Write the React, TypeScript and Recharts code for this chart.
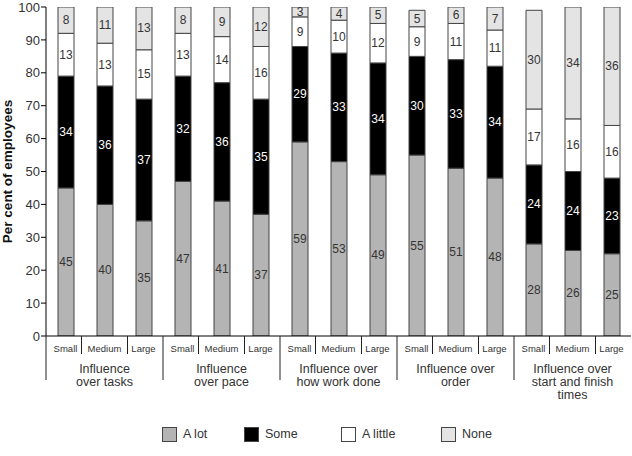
import React from 'react';
import { BarChart, Bar, XAxis, YAxis, Legend, LabelList } from 'recharts';

// ---- data ----
const sizes = ['Small', 'Medium', 'Large'];
const groupLabels: string[][] = [
  ['Influence', 'over tasks'],
  ['Influence', 'over pace'],
  ['Influence over', 'how work done'],
  ['Influence over', 'order'],
  ['Influence over', 'start and finish', 'times'],
];
const aLot = [45, 40, 35, 47, 41, 37, 59, 53, 49, 55, 51, 48, 28, 26, 25];
const some = [34, 36, 37, 32, 36, 35, 29, 33, 34, 30, 33, 34, 24, 24, 23];
const aLittle = [13, 13, 15, 13, 14, 16, 9, 10, 12, 9, 11, 11, 17, 16, 16];
const none = [8, 11, 13, 8, 9, 12, 3, 4, 5, 5, 6, 7, 30, 34, 36];
const yTicks = [0, 10, 20, 30, 40, 50, 60, 70, 80, 90, 100];
const seriesNames = ['A lot', 'Some', 'A little', 'None'];
const yLabel = 'Per cent of employees';

// ---- styles ----
const FONT = '"Liberation Sans", Arial, Helvetica, sans-serif';
const TXT = '#333';
const colors = ['#b4b4b4', '#000000', '#ffffff', '#e4e4e4'];
const labelColors = ['#333', '#ffffff', '#333', '#333'];
const keys = ['aLot', 'some', 'aLittle', 'none'];
const legendX = [162, 244, 341, 441];
const BAND = 39;

const data = aLot.map((v, i) => ({
  key: i,
  size: sizes[i % 3],
  aLot: v,
  some: some[i],
  aLittle: aLittle[i],
  none: none[i],
}));

function XTick(props: any) {
  const { x, y, payload } = props;
  const i = Number(payload.value);
  const half = BAND / 2;
  const g = Math.floor(i / 3);
  const pos = i % 3;
  return (
    <g>
      <text x={x} y={y + 16} textAnchor="middle" fontSize={9.5} fill={TXT} fontFamily={FONT}>
        {sizes[pos]}
      </text>
      {pos === 0 && (
        <line x1={x - half} x2={x - half} y1={y} y2={y + 44} stroke="#222" strokeWidth={1} />
      )}
      {pos === 1 && (
        <g>
          <line x1={x - half - 3.5} x2={x - half - 3.5} y1={y} y2={y + 18} stroke="#222" strokeWidth={1} />
          <line x1={x + half + 3.5} x2={x + half + 3.5} y1={y} y2={y + 18} stroke="#222" strokeWidth={1} />
          {groupLabels[g].map((ln, k) => (
            <text key={k} x={x} y={y + 37 + k * 13} textAnchor="middle" fontSize={12.5} fill={TXT} fontFamily={FONT}>
              {ln}
            </text>
          ))}
        </g>
      )}
    </g>
  );
}

function LegendContent() {
  return (
    <div style={{ position: 'relative', width: 632, height: 24, fontFamily: FONT }}>
      {seriesNames.map((n, k) => (
        <div key={n} style={{ position: 'absolute', left: legendX[k], top: 3, display: 'flex', alignItems: 'center' }}>
          <div style={{ width: 13, height: 13, background: colors[k], border: '1px solid #444' }} />
          <span style={{ marginLeft: 6, fontSize: 12.5, color: TXT, lineHeight: '15px' }}>{n}</span>
        </div>
      ))}
    </div>
  );
}

function YLabel(props: any) {
  const vb = props.viewBox || { x: 0, y: 7, width: 46, height: 329 };
  const cx = 11.5;
  const cy = vb.y + vb.height / 2;
  return (
    <text x={cx} y={cy} transform={`rotate(-90, ${cx}, ${cy})`} textAnchor="middle" fontSize={13.5} fontWeight="bold" fill="#111" fontFamily={FONT}>
      {yLabel}
    </text>
  );
}

function makeLabel(color: string) {
  return (p: any) => {
    const { x, y, width, height, value } = p;
    const cx = Number(x) + Number(width) / 2;
    const cy = Number(y) + Number(height) / 2 + 4;
    return (
      <g opacity={0.99}>
        <text x={cx} y={cy} textAnchor="middle" fontSize={12} fill={color} stroke="none" fontFamily={FONT}>
          {value}
        </text>
      </g>
    );
  };
}

export default function App() {
  return (
    <div style={{ position: 'absolute', left: 0, top: 0, width: 632, height: 456, background: '#fff', fontFamily: FONT }}>
      <BarChart
        width={632}
        height={456}
        data={data}
        margin={{ top: 7, right: 1, left: 0, bottom: 8 }}
        barSize={16}
      >
        <XAxis
          dataKey="key"
          type="category"
          interval={0}
          tickLine={false}
          tickSize={0}
          tickMargin={0}
          axisLine={{ stroke: '#000', strokeWidth: 1 }}
          height={88}
          tick={<XTick />}
        />
        <YAxis
          type="number"
          domain={[0, 100]}
          allowDataOverflow
          ticks={yTicks}
          interval={0}
          width={46}
          tickSize={5}
          tickMargin={1}
          axisLine={{ stroke: '#000', strokeWidth: 1 }}
          tickLine={{ stroke: '#000', strokeWidth: 1 }}
          tick={{ fontSize: 13, fill: TXT, fontFamily: FONT }}
          label={<YLabel />}
        />
        <Legend verticalAlign="bottom" wrapperStyle={{ left: 0, width: 632, height: 24 }} content={() => <LegendContent />} />
        {keys.map((k, idx) => (
          <Bar
            key={k}
            dataKey={k}
            name={seriesNames[idx]}
            stackId="s"
            fill={colors[idx]}
            stroke="#444"
            strokeWidth={1}
            isAnimationActive={false}
          >
            <LabelList dataKey={k} content={makeLabel(labelColors[idx])} />
          </Bar>
        ))}
      </BarChart>
    </div>
  );
}
